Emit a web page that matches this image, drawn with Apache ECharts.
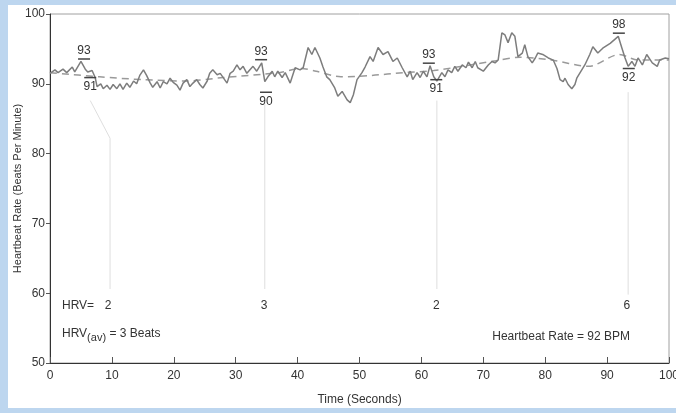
<!DOCTYPE html>
<html><head><meta charset="utf-8">
<script src="https://cdn.jsdelivr.net/npm/echarts@6/dist/echarts.min.js"></script>
<style>
html,body{margin:0;padding:0;background:#bdd6ef;overflow:hidden;}
#wrap{position:absolute;left:8px;top:5px;width:668px;height:403px;background:#fff;}
#chart{position:absolute;left:0;top:0;width:676px;height:413px;}
</style></head><body>
<div id="wrap"></div>
<div id="chart"></div>
<script>
const heartTimes = [0,0.8,1.3,2.1,2.7,3.6,4.0,5.0,5.7,6.1,6.8,7.3,7.6,8.2,8.6,9.2,9.7,10.2,10.8,11.3,11.8,12.4,12.9,13.5,14.0,14.5,15.1,15.6,16.2,16.6,17.3,17.8,18.3,18.9,19.4,19.9,20.5,21.0,21.5,22.1,22.6,23.1,23.7,24.2,24.7,25.4,25.8,26.3,27.0,27.5,27.9,28.6,29.1,29.6,30.2,30.7,31.2,31.8,32.3,32.8,33.4,34.2,34.7,35.2,35.9,36.3,36.8,37.5,38.0,38.8,39.6,40.4,40.9,41.7,42.3,42.8,43.6,44.1,44.7,45.2,46.0,46.5,47.2,48.0,48.5,49.0,49.6,50.4,50.9,51.7,52.2,53.0,53.8,54.6,55.4,56.1,56.9,57.7,58.2,58.6,59.3,59.8,60.3,60.9,61.4,62.0,62.5,63.3,63.8,64.3,64.9,65.4,65.9,66.6,67.2,67.6,68.2,68.7,69.1,70.0,70.8,71.4,71.9,72.4,73.0,73.5,74.0,74.6,75.1,75.6,76.3,76.7,77.2,77.9,78.4,78.8,79.6,80.5,81.3,81.9,82.4,82.9,83.2,83.7,84.3,84.8,85.1,86.4,87.2,87.7,88.5,89.3,90.5,91.8,92.4,92.9,93.4,94.0,94.5,95.0,95.7,96.4,97.3,98.1,98.5,99.4,100];
const heartRates = [91.5,92.0,91.6,92.1,91.6,92.4,91.7,93.2,92.1,91.7,91.9,90.9,89.6,90.0,89.3,89.8,89.2,89.9,89.3,90.0,89.2,90.1,89.5,90.4,90.0,91.2,92.0,91.2,90.1,89.5,90.3,89.4,90.3,90.0,90.8,90.2,89.8,89.1,90.1,90.6,89.6,90.1,90.6,89.9,89.4,90.4,91.5,92.0,91.3,91.5,91.0,90.1,91.5,91.8,92.7,92.0,92.5,91.5,92.0,92.5,91.8,93.0,90.3,91.0,91.8,91.0,91.8,90.9,91.6,90.1,92.3,92.0,92.3,95.2,94.2,95.2,93.7,92.4,91.0,90.6,89.4,88.2,88.9,87.7,87.3,88.4,90.6,91.6,92.4,93.9,93.2,95.2,94.2,94.6,93.2,93.7,92.3,91.0,91.8,90.6,91.6,90.9,91.8,91.0,92.6,91.0,90.4,91.6,91.0,92.0,91.6,92.5,91.8,92.7,92.3,93.1,92.3,93.2,92.3,91.8,92.7,93.2,93.0,93.4,97.3,97.0,95.9,97.3,96.8,93.9,94.4,95.6,93.9,93.0,93.7,94.4,94.2,93.7,93.4,92.2,90.6,90.3,90.8,89.9,89.3,89.9,90.8,92.7,94.2,95.3,94.4,95.1,95.8,96.8,95.1,93.7,92.5,93.2,92.5,93.7,92.7,94.2,93.0,92.5,93.4,93.7,93.6];
const trendTimes = [0,8,15,22,28,37,40.5,43,47,52,57,62,72,76,81,87,92,95,100];
const trendRates = [91.6,91.0,90.6,90.4,90.9,91.6,92.2,91.8,91.0,91.2,91.6,91.9,93.3,93.8,93.4,92.5,94.2,93.4,93.4];
const peakLabels = ['93','91','93','90','93','91','98','92'];
const peakTimes = [5.5,6.5,34.1,34.9,61.2,62.4,91.9,93.5];
const peakValues = [94.7,89.6,94.6,87.5,94.1,89.3,98.4,90.9];
const peakBars = ['under','over','under','over','under','over','under','over'];
const hrvTimes = [9.4,34.6,62.4,93.2];
const hrvValues = ['2','3','2','6'];
const connectorLines = [
  [[6.5,87.6],[9.7,82.2],[9.7,60.6]],
  [[34.7,87.3],[34.7,60.6]],
  [[62.5,87.6],[62.5,60.6]],
  [[93.4,88.8],[93.4,59.8]]
];
const hrvText = 'HRV=';
const hrvAvText = ['HRV', '(av)', ' = 3 Beats'];
const rateText = 'Heartbeat Rate = 92 BPM';
const xName = 'Time (Seconds)';
const yName = 'Heartbeat Rate (Beats Per Minute)';

const FONT = '"Liberation Sans", Arial, sans-serif';
const chart = echarts.init(document.getElementById('chart'));
const series = [];
connectorLines.forEach(seg => {
  series.push({type:'line', data: seg, symbol:'none', silent:true, z:1,
    lineStyle:{color:'#dedede', width:1}});
});
series.push({type:'line', data: trendTimes.map((t,i)=>[t,trendRates[i]]), symbol:'none', smooth:0.3, z:2,
  lineStyle:{color:'#9a9a9a', width:1.5, type:[7,5]}});
series.push({type:'line', data: heartTimes.map((t,i)=>[t,heartRates[i]]), symbol:'none', z:3,
  lineStyle:{color:'#7d7d7d', width:1.5}});
series.push({type:'custom', clip:false, z:5,
  data: peakTimes.map((t,i)=>[t,peakValues[i]]),
  renderItem:(params, api)=>{
    const p = api.coord([api.value(0), api.value(1)]);
    const i = params.dataIndex;
    const by = peakBars[i]==='under' ? p[1]+8 : p[1]-9;
    return {type:'group', children:[
      {type:'text', style:{text:peakLabels[i], x:p[0], y:p[1], align:'center', verticalAlign:'middle', fontSize:12, fontFamily:FONT, fill:'#333'}},
      {type:'line', shape:{x1:p[0]-6,y1:by,x2:p[0]+6,y2:by}, style:{stroke:'#444', lineWidth:1.5}}
    ]};
  }});
series.push({type:'custom', clip:false, z:5,
  data: hrvTimes.map((t,i)=>[t,58.2]),
  renderItem:(params, api)=>{
    const p = api.coord([api.value(0), api.value(1)]);
    return {type:'text', style:{text:hrvValues[params.dataIndex], x:p[0], y:p[1], align:'center', verticalAlign:'middle', fontSize:12, fontFamily:FONT, fill:'#333'}};
  }});

chart.setOption({
  animation:false,
  grid:{left:50, right:7, top:14, bottom:50, show:true, borderColor:'#a0a0a0', borderWidth:1,
    containLabel:false, outerBoundsMode:'none'},
  xAxis:{type:'value', min:0, max:100, interval:10, name:xName, nameLocation:'middle', nameGap:31, nameMoveOverlap:false,
    nameTextStyle:{fontSize:12, fontFamily:FONT, color:'#333'},
    axisLine:{lineStyle:{color:'#333', width:1}}, axisTick:{inside:true, length:6, lineStyle:{color:'#555'}},
    axisLabel:{fontSize:12, fontFamily:FONT, color:'#333', margin:7}, splitLine:{show:false}},
  yAxis:{type:'value', min:50, max:100, interval:10, name:yName, nameLocation:'middle', nameGap:27, nameMoveOverlap:false,
    nameTextStyle:{fontSize:11, fontFamily:FONT, color:'#333'},
    axisLine:{show:true, lineStyle:{color:'#333', width:1}}, axisTick:{show:true, length:4, lineStyle:{color:'#555'}},
    axisLabel:{fontSize:12, fontFamily:FONT, color:'#333', margin:5}, splitLine:{show:false}},
  graphic:[
    {type:'text', left:62, top:300, style:{text:hrvText, fontSize:12, fontFamily:FONT, fill:'#333'}},
    {type:'text', left:62, top:328, style:{text:'{a|'+hrvAvText[0]+'}{b|'+hrvAvText[1]+'}{a|'+hrvAvText[2]+'}',
      rich:{a:{fontSize:12, fontFamily:FONT, fill:'#333', color:'#333', lineHeight:14},
            b:{fontSize:11, fontFamily:FONT, fill:'#333', color:'#333', padding:[8,0,0,0]}}}},
    {type:'text', right:46, top:331, style:{text:rateText, fontSize:12, fontFamily:FONT, fill:'#333'}}
  ],
  series
});
</script></body></html>
